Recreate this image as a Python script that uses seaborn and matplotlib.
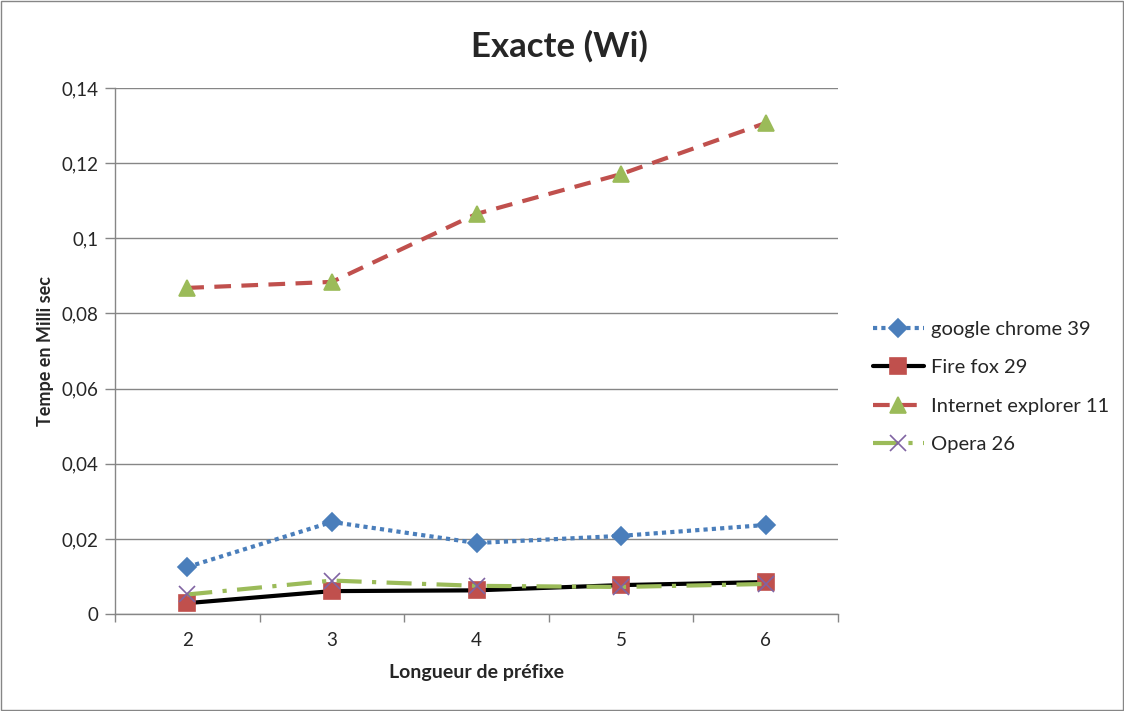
import matplotlib
matplotlib.use("Agg")
import matplotlib.pyplot as plt
import seaborn as sns
import pandas as pd
from matplotlib.ticker import FuncFormatter, FixedLocator

prefix = [2, 3, 4, 5, 6]
chrome = [0.0125, 0.0245, 0.0189, 0.0208, 0.0237]
firefox = [0.0029, 0.0061, 0.0063, 0.0077, 0.0085]
ie = [0.0868, 0.0884, 0.1065, 0.1171, 0.1307]
opera = [0.0052, 0.0089, 0.0075, 0.0072, 0.0080]
series_names = ["google chrome 39", "Fire fox 29", "Internet explorer 11", "Opera 26"]
yticks = [0, 0.02, 0.04, 0.06, 0.08, 0.1, 0.12, 0.14]

sns.set_theme(style="white")
plt.rcParams['font.family'] = ['Lato', 'DejaVu Sans']

fig = plt.figure(figsize=(11.24, 7.11), dpi=100)
ax = fig.add_axes([0.1023, 0.1364, 0.6433, 0.7398])

df = pd.DataFrame({"x": prefix * 4,
                   "y": chrome + firefox + ie + opera,
                   "s": sum([[n] * 5 for n in series_names], [])})

styles = {
    "google chrome 39": dict(color="#4A7EBB", ls=(0, (1, 1)), marker="D", mfc="#4A7EBB", mec="#4A7EBB", ms=9),
    "Fire fox 29": dict(color="black", ls="-", marker="s", mfc="#C0504D", mec="#C0504D", ms=11),
    "Internet explorer 11": dict(color="#C0504D", ls=(0, (4, 2.5)), marker="^", mfc="#9BBB59", mec="#9BBB59", ms=12),
    "Opera 26": dict(color="#9BBB59", ls=(0, (6, 2.5, 1, 2.5)), marker="x", mfc="#8064A2", mec="#8064A2", ms=11),
}

for name in series_names:
    st = styles[name]
    sub = df[df.s == name]
    sns.lineplot(data=sub, x="x", y="y", ax=ax, color=st["color"], linestyle=st["ls"],
                 linewidth=3, marker=st["marker"], markersize=st["ms"],
                 markerfacecolor=st["mfc"], markeredgecolor=st["mec"],
                 markeredgewidth=1.2, label=name)

ax.set_xlim(1.5, 6.5)
ax.set_ylim(0, 0.14)
ax.set_yticks(yticks)
ax.yaxis.set_major_formatter(FuncFormatter(lambda v, p: ("%g" % round(v, 4)).replace(".", ",")))
ax.set_xticks(prefix)
ax.set_xticklabels([str(p) for p in prefix])
ax.xaxis.set_minor_locator(FixedLocator([1.5, 2.5, 3.5, 4.5, 5.5, 6.5]))
ax.tick_params(axis="x", which="major", length=0, labelsize=13.5, pad=13)
ax.tick_params(axis="x", which="minor", length=6, width=1, color="#868686", direction="out", bottom=True)
ax.tick_params(axis="y", length=7, width=1, color="#868686", direction="out", left=True, labelsize=13.5, pad=5)

ax.grid(axis="y", color="#868686", linewidth=1)
ax.set_axisbelow(True)
for sp in ["top", "right"]:
    ax.spines[sp].set_visible(False)
for sp in ["left", "bottom"]:
    ax.spines[sp].set_color("#868686")
    ax.spines[sp].set_linewidth(1)

ax.set_xlabel("Longueur de préfixe", fontsize=14, fontweight="bold", labelpad=11)
ax.set_ylabel("Tempe en Milli sec", fontsize=13, fontweight="bold", labelpad=5)
fig.suptitle("Exacte (Wi)", x=0.498, y=0.958, fontsize=25, fontweight="bold")

leg = ax.legend(loc="center left", bbox_to_anchor=(1.048, 0.4316), frameon=False, fontsize=14.5,
                handlelength=2.55, handletextpad=0.35, labelspacing=1.05, borderaxespad=0,
                borderpad=0)

fig.patches.append(plt.Rectangle((0.001, 0.001), 0.998, 0.998, transform=fig.transFigure,
                                 fill=False, edgecolor="#868686", linewidth=1))
fig.savefig("out.png", dpi=100, facecolor="white")
